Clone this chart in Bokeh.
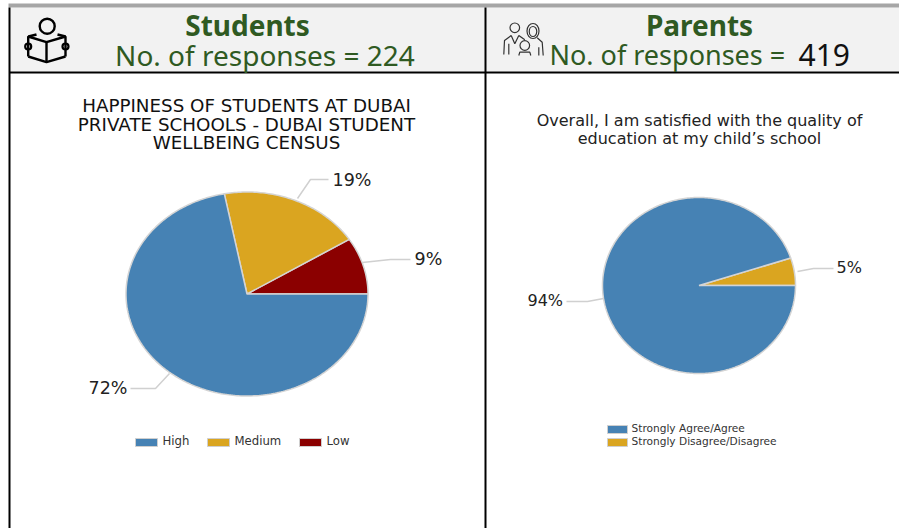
import math
from bokeh.plotting import figure
from bokeh.models import Range1d
from bokeh.embed import file_html
from bokeh.resources import INLINE

students_labels = ["Low", "Medium", "High"]
students_values = [9, 19, 72]
students_colors = ["#8b0000", "#daa520", "#4682b4"]
students_pct = ["9%", "19%", "72%"]
parents_labels = ["Strongly Disagree/Disagree", "Strongly Agree/Agree"]
parents_values = [5, 94]
parents_colors = ["#daa520", "#4682b4"]
parents_pct = ["5%", "94%"]

W, H = 899, 528
p = figure(width=W, height=H, output_backend="svg", toolbar_location=None,
           x_range=Range1d(0, W), y_range=Range1d(H, 0), min_border=0,
           styles={"position": "absolute", "left": "0px", "top": "0px"})
p.axis.visible = False
p.grid.visible = False
p.outline_line_color = None

def box(x0, x1, y0, y1, c):
    p.quad(left=[x0], right=[x1], top=[y0], bottom=[y1], fill_color=c, line_color=None)

box(9, 899, 7, 71, "#f2f2f2")
box(8, 899, 3, 7, "#a6a6a6")
box(9, 899, 71, 73, "#000000")
box(8, 10, 7, 528, "#000000")
box(484, 486, 7, 528, "#000000")

def pie(values, colors, cx, cy, rx, ry):
    total = sum(values)
    a = 0.0
    for v, c in zip(values, colors):
        b = a + v / total * 2 * math.pi
        n = max(2, int((b - a) * 60))
        xs = [cx] + [cx + rx * math.cos(a + (b - a) * i / n) for i in range(n + 1)]
        ys = [cy] + [cy - ry * math.sin(a + (b - a) * i / n) for i in range(n + 1)]
        p.patch(xs, ys, fill_color=c, line_color="#d4d4d4", line_width=1.5)
        a = b

pie(students_values, students_colors, 246.5, 293.5, 121, 102)
pie(parents_values, parents_colors, 698.5, 285, 96.5, 88)

def leader(xs, ys):
    p.line(xs, ys, line_color="#d0d0d0", line_width=1.5)

leader([297, 310, 328], [198, 179, 179])
leader([362, 390, 410], [262, 259, 259])
leader([169, 155, 130], [373, 388, 388])
leader([797, 813, 833], [271, 268, 268])
leader([603, 587, 566], [298, 301, 301])

def txt(x, y, s, size, color="#222222", font="DejaVu Sans", align="left", style="normal"):
    p.text([x], [y], text=[s], text_font_size=f"{size}px", text_color=color,
           text_font={"value": font}, text_align=align, text_baseline="middle",
           text_font_style=style)

txt(332, 179, students_pct[1], 17.5)
txt(414, 258, students_pct[0], 17.5)
txt(88, 387, students_pct[2], 17.5)
txt(836, 267, parents_pct[0], 16)
txt(527, 300, parents_pct[1], 16)

for s, y in zip(["HAPPINESS OF STUDENTS AT DUBAI", "PRIVATE SCHOOLS - DUBAI STUDENT", "WELLBEING CENSUS"], [105, 123.5, 142]):
    txt(246, y, s, 18.3, "#111111", align="center")
for s, y in zip(["Overall, I am satisfied with the quality of", "education at my child\u2019s school"], [119.5, 137.5]):
    txt(699, y, s, 16, "#222222", align="center")

green = "#2f5a22"
txt(247, 24, "Students", 28, green, "Noto Sans", "center", "bold")
txt(264.5, 54, "No. of responses = 224", 28, green, "Noto Sans", "center")
txt(699, 24, "Parents", 28, green, "Noto Sans", "center", "bold")
txt(549, 54, "No. of responses =", 27, green, "Noto Sans")
txt(798, 54, "419", 30, "#111111", "Noto Sans")

def swatch(x0, x1, y0, y1, c):
    p.quad(left=[x0], right=[x1], top=[y0], bottom=[y1], fill_color=c, line_color="#cfcfcf", line_width=1)

for name, c, x0 in zip(students_labels[::-1], students_colors[::-1], [135, 207, 299]):
    swatch(x0, x0 + 22, 438, 446, c)
    txt(x0 + 27, 440, name, 11.7, "#333333")
for name, c, y0 in zip(parents_labels[::-1], parents_colors[::-1], [425, 438]):
    swatch(607, 627, y0, y0 + 8, c)
    txt(631, y0 + 2, name, 10.6, "#333333")

# icons
p.circle([46.7], [25.7], radius=7.5, fill_color=None, line_color="#000000", line_width=2.4)
p.circle([27.7, 65], [46, 46], radius=3, fill_color=None, line_color="#000000", line_width=2.2)
p.multi_line([[27.7, 27.7, 46, 65, 65], [27.7, 46, 65], [46, 46], [36, 28], [57, 65]],
             [[56, 36, 41.7, 36, 56], [56, 61.7, 56], [41.7, 61.7], [34, 36], [34, 36]],
             line_color="#000000", line_width=2.4)
p.circle([514.3, 524.3], [27.3, 45], radius=4.8, fill_color=None, line_color="#333333", line_width=1.2)
p.ellipse([532.5, 532.5], [30.5, 31], width=[12, 7.5], height=[15, 10], fill_color=None,
          line_color="#333333", line_width=1.2)
p.multi_line([[503.3, 504, 510.7], [518.3, 524.3], [510.7, 514.3, 518.3], [508.3, 508.3],
              [536.7, 541.7, 542.7], [538.3, 538.3], [518.3, 519.3, 529.3, 530.3]],
             [[54, 40, 35], [35, 39.3], [35, 43.3, 35], [43.3, 54],
              [37.3, 41.7, 55], [46.7, 55], [55, 51.7, 51.7, 55]],
             line_color="#333333", line_width=1.2)

open("out.html", "w").write(file_html(p, INLINE))
